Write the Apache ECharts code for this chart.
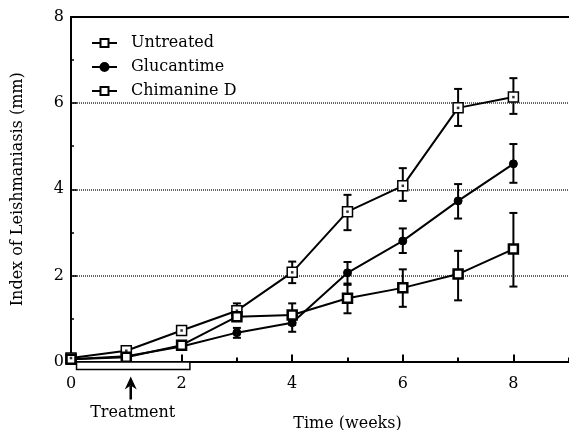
<!DOCTYPE html>
<html>
<head>
<meta charset="utf-8">
<script src="https://cdn.jsdelivr.net/npm/echarts@6/dist/echarts.min.js"></script>
<style>html,body{margin:0;padding:0;background:#fff;}#c{width:569px;height:430px;}</style>
</head>
<body>
<div id="c"></div>
<script>
var weeks = [0, 1, 2, 3, 4, 5, 6, 7, 8];
var untreated = [0.08, 0.25, 0.72, 1.18, 2.07, 3.48, 4.08, 5.89, 6.14];
var untreatedHigh = [0.12, 0.30, 0.79, 1.35, 2.32, 3.87, 4.49, 6.33, 6.58];
var untreatedLow  = [0.04, 0.20, 0.65, 1.08, 1.82, 3.05, 3.73, 5.47, 5.75];
var glucantime = [0.05, 0.12, 0.35, 0.67, 0.90, 2.06, 2.80, 3.73, 4.59];
var glucantimeHigh = [0.08, 0.16, 0.40, 0.78, 1.05, 2.31, 3.09, 4.12, 5.05];
var glucantimeLow  = [0.02, 0.08, 0.30, 0.55, 0.69, 1.81, 2.52, 3.32, 4.15];
var chimanine = [0.05, 0.10, 0.38, 1.04, 1.08, 1.47, 1.71, 2.03, 2.61];
var chimanineHigh = [0.08, 0.14, 0.44, 1.10, 1.35, 1.78, 2.14, 2.57, 3.45];
var chimanineLow  = [0.02, 0.06, 0.32, 0.98, 0.85, 1.12, 1.27, 1.42, 1.74];
var yTicks = [0, 2, 4, 6, 8];
var xTicks = [0, 2, 4, 6, 8];
var treatmentSpan = [0.1, 2.15];
var treatmentArrowWeek = 1.08;

var FONT = 'DejaVu Serif';
function pts(ys) { return weeks.map(function (w, i) { return [w, ys[i]]; }); }
function errs(lo, hi) { return weeks.map(function (w, i) { return [w, lo[i], hi[i]]; }); }

function errRender(params, api) {
  var x = api.value(0);
  var p0 = api.coord([x, api.value(1)]);
  var p1 = api.coord([x, api.value(2)]);
  var hw = 4;
  var st = { stroke: '#000', lineWidth: 2 };
  return {
    type: 'group',
    children: [
      { type: 'line', shape: { x1: p0[0], y1: p0[1], x2: p1[0], y2: p1[1] }, style: st },
      { type: 'line', shape: { x1: p0[0] - hw, y1: p0[1], x2: p0[0] + hw, y2: p0[1] }, style: st },
      { type: 'line', shape: { x1: p1[0] - hw, y1: p1[1], x2: p1[0] + hw, y2: p1[1] }, style: st }
    ]
  };
}

function errSeries(lo, hi) {
  return {
    type: 'custom', renderItem: errRender, data: errs(lo, hi),
    encode: { x: 0, y: [1, 2] }, z: 1, silent: true
  };
}

var chart = echarts.init(document.getElementById('c'));
chart.setOption({
  animation: false,
  backgroundColor: '#fff',
  textStyle: { fontFamily: FONT, color: '#000' },
  grid: { left: 71, right: -55, top: 17, bottom: 68.5, containLabel: false, outerBoundsMode: 'none' },
  legend: {
    data: ['Untreated', 'Glucantime', 'Chimanine D'],
    orient: 'vertical', left: 86, top: 30,
    itemWidth: 25, itemHeight: 10, itemGap: 8,
    textStyle: { fontFamily: FONT, fontSize: 16, color: '#000', padding: [0, 0, 0, 9], lineHeight: 16 }
  },
  xAxis: [{
    type: 'value', min: 0, max: 10, interval: 2,
    axisLine: { show: true, lineStyle: { color: '#000', width: 2 } },
    axisTick: { show: true, inside: true, length: 7, lineStyle: { color: '#000', width: 2 } },
    minorTick: { show: true, splitNumber: 2, length: 4, lineStyle: { color: '#000', width: 2 } },
    splitLine: { show: false },
    axisLabel: {
      fontFamily: FONT, fontSize: 16, color: '#000', margin: 14,
      formatter: function (v) { return xTicks.indexOf(v) >= 0 ? String(v) : ''; }
    },
    name: 'Time (weeks)', nameLocation: 'middle', nameGap: 54,
    nameTextStyle: { fontFamily: FONT, fontSize: 16, color: '#000' }
  }, {
    type: 'value', min: 0, max: 10, position: 'top',
    axisLine: { show: true, lineStyle: { color: '#000', width: 2 } },
    axisTick: { show: false }, axisLabel: { show: false }, splitLine: { show: false }
  }],
  yAxis: {
    type: 'value', min: 0, max: 8, interval: 2,
    axisLine: { show: true, lineStyle: { color: '#000', width: 2 } },
    axisTick: { show: true, inside: true, length: 6, lineStyle: { color: '#000', width: 1.5 } },
    minorTick: { show: true, splitNumber: 2, length: 3, lineStyle: { color: '#000', width: 1.5 } },
    splitLine: { show: true, lineStyle: { color: '#333', width: 1.5, type: [1, 1] } },
    axisLabel: {
      fontFamily: FONT, fontSize: 16, color: '#000', margin: 7,
      formatter: function (v) { return yTicks.indexOf(v) >= 0 ? String(v) : ''; }
    },
    name: 'Index of Leishmaniasis (mm)', nameLocation: 'middle', nameGap: 45,
    nameTextStyle: { fontFamily: FONT, fontSize: 16, color: '#000' }
  },
  series: [
    errSeries(untreatedLow, untreatedHigh),
    errSeries(glucantimeLow, glucantimeHigh),
    errSeries(chimanineLow, chimanineHigh),
    {
      name: 'Untreated', type: 'line', data: pts(untreated), z: 3,
      symbol: 'rect', symbolSize: 10, showAllSymbol: true,
      lineStyle: { color: '#000', width: 2 },
      itemStyle: { color: '#fff', borderColor: '#000', borderWidth: 1.5 }
    },
    {
      name: 'Glucantime', type: 'line', data: pts(glucantime), z: 3,
      symbol: 'circle', symbolSize: 8, showAllSymbol: true,
      lineStyle: { color: '#000', width: 2 },
      itemStyle: { color: '#000', borderColor: '#000', borderWidth: 1 }
    },
    {
      name: 'Chimanine D', type: 'line', data: pts(chimanine), z: 3,
      symbol: 'rect', symbolSize: 9, showAllSymbol: true,
      lineStyle: { color: '#000', width: 2 },
      itemStyle: { color: '#fff', borderColor: '#000', borderWidth: 2.5 }
    },
    {
      type: 'scatter', data: pts(untreated), z: 4, silent: true,
      symbol: 'rect', symbolSize: 2.5, itemStyle: { color: '#000' }
    },
    {
      type: 'custom', silent: true, z: 5, clip: false,
      data: [[treatmentSpan[0], treatmentSpan[1], treatmentArrowWeek]],
      encode: { x: [0, 1] },
      renderItem: function (params, api) {
        var a = api.coord([api.value(0), 0]);
        var b = api.coord([api.value(1), 0]);
        var c = api.coord([api.value(2), 0]);
        var y0 = a[1];
        return {
          type: 'group',
          children: [
            { type: 'rect', shape: { x: a[0], y: y0 + 0.5, width: b[0] - a[0], height: 7.5 },
              style: { fill: '#fff', stroke: '#000', lineWidth: 1.5 } },
            { type: 'line', shape: { x1: c[0], y1: y0 + 24, x2: c[0], y2: y0 + 38 },
              style: { stroke: '#000', lineWidth: 2.5 } },
            { type: 'polygon', shape: { points: [[c[0], y0 + 15], [c[0] - 6, y0 + 28], [c[0], y0 + 24], [c[0] + 6, y0 + 28]] },
              style: { fill: '#000' } },
            { type: 'text', x: c[0] + 2, y: y0 + 51,
              style: { text: 'Treatment', font: '16px "DejaVu Serif"', fill: '#000', align: 'center', verticalAlign: 'middle' } }
          ]
        };
      }
    }
  ]
});
</script>
</body>
</html>
